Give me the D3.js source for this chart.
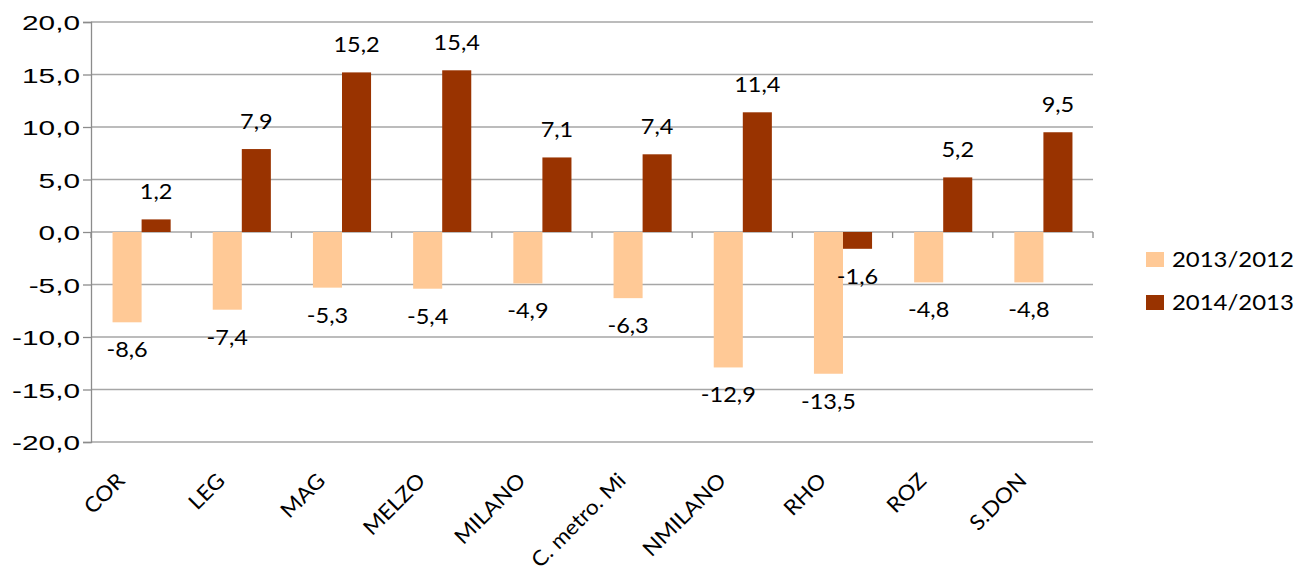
<!DOCTYPE html>
<html><head><meta charset="utf-8">
<script src="https://cdn.jsdelivr.net/npm/d3@7"></script>
<style>body{margin:0;background:#fff;} svg{display:block;font-family:Lato,"Open Sans",sans-serif;}</style>
</head><body>
<svg id="c" width="1297" height="570"></svg>
<script>
const categories = ["COR","LEG","MAG","MELZO","MILANO","C. metro. Mi","NMILANO","RHO","ROZ","S.DON"];
const seriesNames = ["2013/2012","2014/2013"];
const values2013 = [-8.6,-7.4,-5.3,-5.4,-4.9,-6.3,-12.9,-13.5,-4.8,-4.8];
const values2014 = [1.2,7.9,15.2,15.4,7.1,7.4,11.4,-1.6,5.2,9.5];
const yTicks = [-20,-15,-10,-5,0,5,10,15,20];
const colors = ["#FFC996","#993300"];

const svg = d3.select("#c");
const y = d3.scaleLinear().domain([-20,20]).range([442,22]);
const x0 = d3.scaleBand().domain(categories).range([91,1093]).padding(0);
const bw = x0.bandwidth();
const x1 = d3.scaleBand().domain(seriesNames).range([bw*0.215,bw*0.795]).padding(0);
const fmt = v => d3.format(".1f")(v).replace(".",",").replace("−","-");

// gridlines
svg.append("g").selectAll("line").data(yTicks).join("line")
  .attr("x1",91).attr("x2",1093).attr("y1",d=>y(d)).attr("y2",d=>y(d))
  .attr("stroke","#A6A6A6").attr("stroke-width",1.3);

// y axis
const ya = svg.append("g").attr("transform","translate(91,0)")
  .call(d3.axisLeft(y).tickValues(yTicks).tickSize(8).tickFormat(fmt));
ya.select(".domain").attr("stroke","#8C8C8C").attr("stroke-width",1.3);
ya.selectAll(".tick line").attr("stroke","#8C8C8C").attr("stroke-width",1.3);
ya.selectAll(".tick text").attr("font-size",21).attr("fill","#000")
  .attr("x",-11).attr("dy","0.36em").attr("text-anchor","end")
  .attr("transform","translate(-11,0) scale(1.42,1) translate(11,0)");

const data = categories.map((c,i)=>({c, vals:[values2013[i],values2014[i]]}));
const g = svg.append("g").selectAll("g").data(data).join("g")
  .attr("transform",d=>`translate(${x0(d.c)},0)`);
g.selectAll("rect").data(d=>d.vals.map((v,j)=>({v,s:seriesNames[j],j}))).join("rect")
  .attr("x",d=>x1(d.s)).attr("width",x1.bandwidth())
  .attr("y",d=>Math.min(y(d.v),y(0))).attr("height",d=>Math.abs(y(d.v)-y(0)))
  .attr("fill",d=>colors[d.j]);
g.selectAll("text.val").data(d=>d.vals.map((v,j)=>({v,s:seriesNames[j],j}))).join("text")
  .attr("class","val").attr("font-size",21).attr("text-anchor","middle")
  .attr("transform",d=>`translate(${x1(d.s)+x1.bandwidth()/2},${d.v>=0? y(d.v)-20 : y(d.v)+35}) scale(1.12,1)`)
  .text(d=>fmt(d.v));

// x axis at zero
const xa = svg.append("g").attr("transform",`translate(0,${y(0)})`);
xa.selectAll("line").data(d3.range(categories.length+1)).join("line")
  .attr("x1",i=>91+i*bw).attr("x2",i=>91+i*bw).attr("y1",0).attr("y2",6)
  .attr("stroke","#8C8C8C").attr("stroke-width",1.3);

// category labels
svg.append("g").selectAll("text").data(categories).join("text")
  .attr("font-size",21).attr("text-anchor","end")
  .attr("transform",d=>`translate(${x0(d)+bw/2-15},482) rotate(-45) scale(1.08,1)`)
  .text(d=>d);

// legend
const lg = svg.append("g").selectAll("g").data(seriesNames).join("g")
  .attr("transform",(d,i)=>`translate(1146,${252+i*43})`);
lg.append("rect").attr("width",18).attr("height",15).attr("fill",(d,i)=>colors[i]);
lg.append("text").attr("x",26).attr("y",15).attr("font-size",21)
  .attr("transform","translate(26,0) scale(1.14,1) translate(-26,0)").text(d=>d);
</script>
</body></html>
